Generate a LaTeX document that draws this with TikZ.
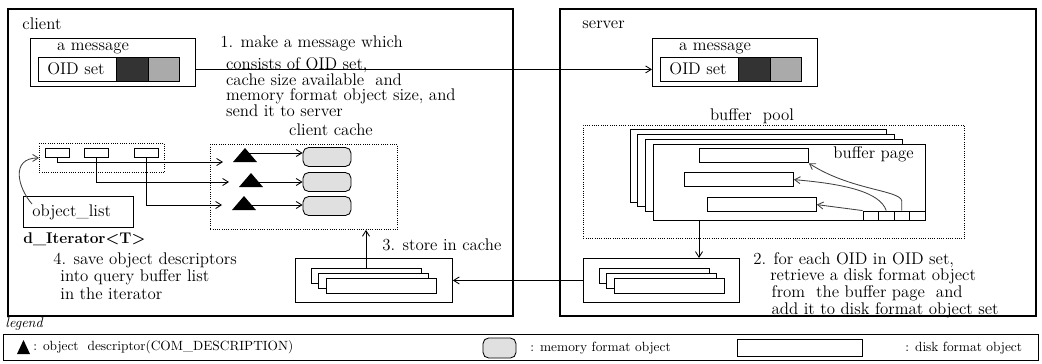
\documentclass[tikz,border=0pt]{standalone}
\usetikzlibrary{arrows.meta,positioning}
\definecolor{memgray}{RGB}{224,224,224}
\definecolor{darkcell}{RGB}{51,51,51}
\definecolor{lightcell}{RGB}{170,170,170}

\begin{document}
\begin{tikzpicture}[x=0.025cm, y=-0.025cm, line width=0.6pt,
  txt/.style={font=\fontsize{12}{10.5}\selectfont, inner sep=0pt, anchor=west},
  note/.style={font=\fontsize{12}{10.5}\selectfont, inner sep=0pt, anchor=north west, align=left},
  legtxt/.style={font=\fontsize{9.5}{11}\selectfont, inner sep=0pt, anchor=west},
  memobj/.style={draw, fill=memgray, rounded corners=4pt, minimum width=1.2cm, minimum height=0.475cm, inner sep=0pt},
  rec/.style={draw, fill=white, minimum width=2.725cm, minimum height=0.36cm, inner sep=0pt},
  slot/.style={draw, minimum width=0.3875cm, minimum height=0.225cm, inner sep=0pt},
  dotbox/.style={draw, densely dotted, inner sep=0pt, anchor=north west},
  plainbox/.style={draw, inner sep=0pt, anchor=north west},
  arr/.style={-{Straight Barb[length=4pt,width=5pt]}},
]
\useasboundingbox (0,0) rectangle (1042,363);

% Client and server frames
\draw[line width=0.9pt] (8,9) rectangle (513,316);
\draw[line width=0.9pt] (560,9) rectangle (1036,316);
\node[txt] (cllbl) at (22,24) {client};
\node[txt] (svlbl) at (582,25) {server};

% The message, on both sides
\foreach \s/\x in {c/30, s/652} {
  \node[plainbox, minimum width=4.125cm, minimum height=1.2cm] (msg\s) at (\x,38) {};
  \node[txt, anchor=center] (msglbl\s) at (\x+63,48) {a message};
  \node[plainbox, minimum width=1.95cm, minimum height=0.6cm] (oid\s) at (\x+8,57) {};
  \node[txt, anchor=center] (oidlbl\s) at (\x+46,69) {OID set};
  \filldraw[fill=darkcell] (\x+86,57) rectangle (\x+118,81);
  \filldraw[fill=lightcell] (\x+118,57) rectangle (\x+149,81);
}
\draw[arr] (msgc.east |- oidc.center) -- (msgs.west |- oids.center);
\node[note] (step1) at (220,35) {1. make a message which\\[3.7pt]
  \hspace*{4pt}consists of OID set,\\
  \hspace*{4pt}cache size available~ and\\
  \hspace*{4pt}memory format object size, and\\
  \hspace*{4pt}send it to server};

% Client cache
\node[txt, anchor=center] (cachelbl) at (331,130) {client cache};
\node[dotbox, minimum width=4.675cm, minimum height=2.125cm] (cache) at (210,144) {};
\foreach \i/\y in {1/157, 2/182, 3/206} {\node[memobj] (m\i) at (327,\y) {};}

% Object list and its descriptors
\node[dotbox, minimum width=3.125cm, minimum height=0.725cm] (olist) at (39,143) {};
\foreach \i/\x in {1/57, 2/96, 3/146} {\node[draw, minimum width=0.6cm, minimum height=0.225cm, inner sep=0pt] (s\i) at (\x,152.5) {};}
\foreach \i/\x/\y/\yin/\yout in {1/245/162/162/153, 2/251/187/182/182, 3/244/210/205/205} {
  \coordinate (t\i in) at (\x-22,\yin);
  \coordinate (t\i out) at (\x,\yout);
  \draw[arr] (s\i.south) |- (t\i in);
  \draw[arr] (t\i out) -- (m\i.west |- t\i out);
  \fill (\x-12,\y) -- (\x+12,\y) -- (\x,\y-14) -- cycle;
}

% Iterator
\node[plainbox, minimum width=2.75cm, minimum height=0.775cm] (itbox) at (23,196) {};
\node[txt] (olbl) at (32,212) {object\_list};
\draw[arr, black!75] (olbl.north west) .. controls (18,188) and (10,158) .. (olist.west);
\node[txt, font=\bfseries\fontsize{11}{11}\selectfont] (itname) at (23,239) {d\_Iterator\textless T\textgreater};
\node[note, font=\fontsize{12}{12.4}\selectfont] (step4) at (53,252) {4. save object descriptors\\
  \hspace*{5pt}into query buffer list\\
  \hspace*{5pt}in the iterator};

% Disk format object sets
\node[plainbox, minimum width=3.925cm, minimum height=1.1cm] (cdisk) at (295,258) {};
\node[plainbox, minimum width=3.9cm, minimum height=1.1cm] (sdisk) at (583,258) {};
\foreach \bx in {295,583} {
  \foreach \dx/\dy in {16/268, 23/273, 31/278} {\draw[fill=white] (\bx+\dx,\dy) rectangle ++(110,15);}
}
\coordinate (cstack) at (366,268);
\draw[arr] (cstack) -- (cstack |- cache.south);
\node[txt] (step3) at (382,245) {3. store in cache};
\draw[arr] (sdisk.west) -- (cdisk.east);

% Buffer pool
\node[txt, anchor=center] (poollbl) at (752,116) {buffer~ pool};
\node[dotbox, minimum width=9.525cm, minimum height=2.825cm] (pool) at (583,125) {};
\foreach \x/\y/\w/\h in {630/129/256/73, 637/134/257/72, 645/139/257/72} {\draw[fill=white] (\x,\y) rectangle ++(\w,\h);}
\node[plainbox, fill=white, minimum width=6.8cm, minimum height=1.9cm] (bpage) at (653,144) {};
\node[txt] (pagelbl) at (833,154) {buffer page};
\node[rec, anchor=north west] (rA) at (699,148) {};
\node[rec, anchor=north west] (rB) at (684,172) {};
\node[rec, anchor=north west] (rC) at (707,197) {};
\foreach \i/\x in {1/870.75, 2/886.25, 3/901.75, 4/917.25} {\node[slot] (sl\i) at (\x,215.5) {};}
\draw[arr, black!75] (sl1.north west) -- (rC.east);
\draw[arr, black!75] (sl2.north) .. controls (880,192) and (845,184) .. (rB.east);
\draw[arr, black!75] (sl3.north) -- ++(0,-10) .. controls (899,190) and (850,190) .. (rA.south east);
\coordinate (pgout) at (699,220);
\draw[arr] (pgout) -- (pgout |- sdisk.north);
\node[note, font=\fontsize{12}{10.2}\selectfont] (step2) at (753,252) {2. for each OID in OID set,\\
  \hspace*{12pt}retrieve a disk format object\\
  \hspace*{13pt}from~ the buffer page~ and\\
  \hspace*{13pt}add it to disk format object set};

% Legend
\node[font=\itshape\fontsize{10}{10}\selectfont, inner sep=0pt, anchor=west] (leglbl) at (5,324) {legend};
\draw (3,334) rectangle (1038,360);
\fill (17,354) -- (30,354) -- (23.5,340) -- cycle;
\node[legtxt] (legdesc) at (33,347) {: object~ descriptor(COM\_DESCRIPTION)};
\node[memobj, minimum width=0.825cm, minimum height=0.5cm] (legmem) at (499.5,348) {};
\node[legtxt] (legmemtxt) at (530,348) {: memory format object};
\node[draw, minimum width=3.125cm, minimum height=0.425cm, inner sep=0pt] (legdisk) at (799.5,347.5) {};
\node[legtxt] (legdisktxt) at (905,348) {: disk format object};
\end{tikzpicture}
\end{document}
